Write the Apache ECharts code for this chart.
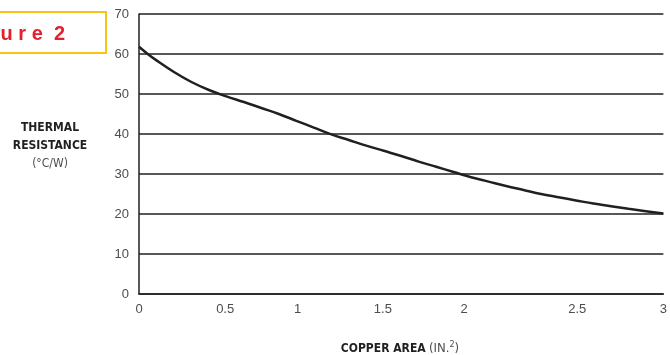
<!DOCTYPE html>
<html><head><meta charset="utf-8">
<script src="https://cdn.jsdelivr.net/npm/echarts@6/dist/echarts.min.js"></script>
<style>html,body{margin:0;padding:0;background:#fff}#c{width:670px;height:355px}</style>
</head><body><div id="c"></div>
<script>
// Copper area (in.^2) vs thermal resistance (°C/W)
const copperArea = [0, 0.05, 0.1, 0.2, 0.3, 0.4, 0.5, 0.6, 0.7, 0.8, 0.9, 1.0, 1.1, 1.2, 1.3, 1.4, 1.5, 1.6, 1.7, 1.8, 1.9, 2.0, 2.1, 2.2, 2.3, 2.4, 2.5, 2.6, 2.7, 2.8, 2.9, 3.0];
const thermalRes = [61.8, 60.0, 58.4, 55.5, 53.0, 51.0, 49.4, 48.0, 46.5, 45.0, 43.3, 41.6, 39.9, 38.5, 37.1, 35.8, 34.5, 33.1, 31.8, 30.5, 29.2, 28.1, 27.0, 26.0, 25.0, 24.2, 23.4, 22.6, 21.95, 21.3, 20.7, 20.1];
// printed tick labels and where they sit along the axis
const xTickPos = [0, 0.493, 0.907, 1.395, 1.860, 2.507, 3];
const xTickLabels = ['0', '0.5', '1', '1.5', '2', '2.5', '3'];
const yTicks = [0, 10, 20, 30, 40, 50, 60, 70];

const chart = echarts.init(document.getElementById('c'), null, {renderer: 'canvas'});
const labelFont = '"Liberation Sans", Arial, sans-serif';
const narrow = '"DejaVu Sans Condensed", "Liberation Sans Narrow", "Liberation Sans", sans-serif';
chart.setOption({
  animation: false,
  grid: {left: 139, top: 14, right: 2, bottom: 61, containLabel: false},
  xAxis: {
    type: 'value', min: 0, max: 3,
    axisLine: {show: true, lineStyle: {color: '#231f20', width: 1.5}},
    axisTick: {show: false},
    splitLine: {show: false},
    axisLabel: {
      customValues: xTickPos,
      formatter: v => { const i = xTickPos.findIndex(p => Math.abs(p - v) < 1e-6); return i >= 0 ? xTickLabels[i] : ''; },
      color: '#4d4d4d', fontSize: 13, fontFamily: labelFont, margin: 9,
      showMinLabel: true, showMaxLabel: true, hideOverlap: false
    }
  },
  yAxis: {
    type: 'value', min: 0, max: 70, interval: 10,
    axisLine: {show: true, lineStyle: {color: '#231f20', width: 1.5}},
    axisTick: {show: false},
    splitLine: {show: true, lineStyle: {color: '#231f20', width: 1.5}},
    axisLabel: {
      formatter: v => yTicks.includes(v) ? String(v) : '',
      color: '#4d4d4d', fontSize: 13, fontFamily: labelFont, margin: 10
    }
  },
  series: [{
    type: 'line',
    data: copperArea.map((x, i) => [x, thermalRes[i]]),
    smooth: 0.4,
    showSymbol: false,
    lineStyle: {color: '#231f20', width: 2.5},
    z: 5
  }],
  graphic: [
    {type: 'rect', shape: {x: -10, y: 12, width: 116, height: 41},
     style: {fill: 'none', stroke: '#f7c21a', lineWidth: 2}},
    {type: 'text', style: {x: 65, y: 34, text: 'F i g u r e  2', align: 'right', verticalAlign: 'middle',
      fill: '#e3202b', font: 'bold 20px "Liberation Sans", sans-serif'}},
    {type: 'text', style: {x: 50, y: 128, text: 'THERMAL', align: 'center', verticalAlign: 'middle',
      fill: '#231f20', font: 'bold 12px ' + narrow}},
    {type: 'text', style: {x: 50, y: 146, text: 'RESISTANCE', align: 'center', verticalAlign: 'middle',
      fill: '#231f20', font: 'bold 12px ' + narrow}},
    {type: 'text', style: {x: 50, y: 164, text: '(°C/W)', align: 'center', verticalAlign: 'middle',
      fill: '#4d4d4d', font: '12px ' + narrow}},
    {type: 'text', style: {x: 400, y: 349, align: 'center', verticalAlign: 'middle',
      text: '{b|COPPER AREA} {n|(IN.}{s|2}{n|)}',
      rich: {
        b: {fontFamily: narrow, fontWeight: 'bold', fontSize: 12, fill: '#231f20'},
        n: {fontFamily: narrow, fontSize: 13, fill: '#4d4d4d'},
        s: {fontFamily: narrow, fontSize: 9, fill: '#4d4d4d', verticalAlign: 'top', padding: [0, 0, 8, 0]}
      }}}
  ]
});
</script></body></html>
